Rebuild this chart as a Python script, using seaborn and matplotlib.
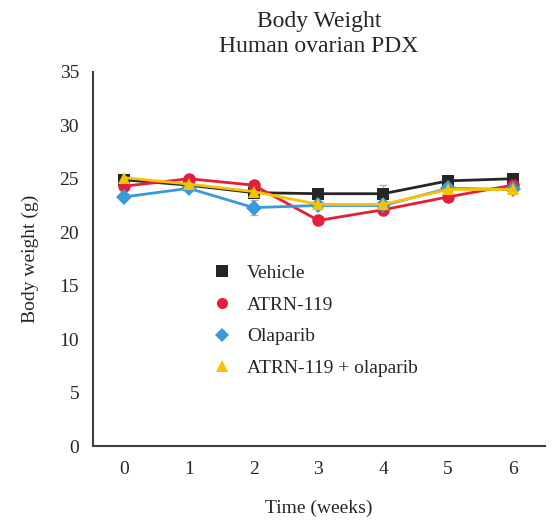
import pandas as pd
import numpy as np
import matplotlib.pyplot as plt
import seaborn as sns

# Body weight (g) per group
weeks = [0, 1, 2, 3, 4, 5, 6]
vehicle = [24.9, 24.4, 23.7, 23.6, 23.6, 24.8, 25.0]
atrn = [24.3, 25.0, 24.4, 21.1, 22.1, 23.3, 24.4]
olaparib = [23.3, 24.1, 22.3, 22.5, 22.5, 24.1, 24.0]
combo = [25.1, 24.5, 23.8, 22.6, 22.6, 24.0, 24.0]

# rough error bar sizes
vehicle_err = [0.3, 0.3, 0.3, 0.2, 0.8, 0.3, 0.3]
atrn_err = [0.3, 0.3, 0.3, 0.3, 0.3, 0.3, 0.3]
olaparib_err = [0.2, 0.2, 0.7, 0.2, 0.3, 0.2, 0.2]
combo_err = [0.2, 0.2, 0.3, 0.2, 0.3, 0.2, 0.2]

groups = ['Vehicle', 'ATRN-119', 'Olaparib', 'ATRN-119 + olaparib']
values = [vehicle, atrn, olaparib, combo]
errors = [vehicle_err, atrn_err, olaparib_err, combo_err]
colors = ['#262626', '#e3203c', '#3a9ad9', '#f7c200']
markers = ['s', 'o', 'D', '^']
msizes = [9, 9, 8, 9]

df = pd.DataFrame({
    'week': weeks * len(groups),
    'weight': sum(values, []),
    'group': np.repeat(groups, len(weeks)),
})

sns.set_style('white')
plt.rcParams['font.family'] = ['Liberation Serif', 'DejaVu Serif']

fig = plt.figure(figsize=(5.53, 5.20), dpi=100)
ax = fig.add_axes([0.168, 0.142, 0.818, 0.72])

for g, vals, err, c, m, ms in zip(groups, values, errors, colors, markers, msizes):
    ax.errorbar(weeks, vals, yerr=err, fmt='none', ecolor='#b0b0b0',
                elinewidth=1, capsize=3, zorder=1)
    sub = df[df['group'] == g]
    sns.lineplot(data=sub, x='week', y='weight', ax=ax, color=c, lw=2,
                 marker=m, markersize=ms, markeredgewidth=0, legend=False)

# legend: markers only
handles = [plt.Line2D([], [], ls='none', marker=m, color=c, markersize=ms - 1,
                      markeredgewidth=0) for c, m, ms in zip(colors, markers, msizes)]
ax.legend(handles, groups, frameon=False, loc='upper left',
          bbox_to_anchor=(0.22, 0.532), fontsize=14, labelspacing=0.72,
          handletextpad=0.7, handlelength=1.2)

ax.set_xlim(-0.48, 6.5)
ax.set_ylim(0, 35)
ax.set_xticks(weeks)
ax.set_yticks(range(0, 36, 5))
ax.tick_params(labelsize=14, length=0, pad=10)
ax.tick_params(axis='x', pad=11)
ax.set_xlabel('Time (weeks)', fontsize=14, labelpad=15)
ax.set_ylabel('Body weight (g)', fontsize=14, labelpad=15)
ax.set_title('Body Weight\nHuman ovarian PDX', fontsize=17, linespacing=1.3, pad=14)
sns.despine(ax=ax)
for s in ['left', 'bottom']:
    ax.spines[s].set_color('#404040')
    ax.spines[s].set_linewidth(1.5)

fig.savefig('out.png', dpi=100)
